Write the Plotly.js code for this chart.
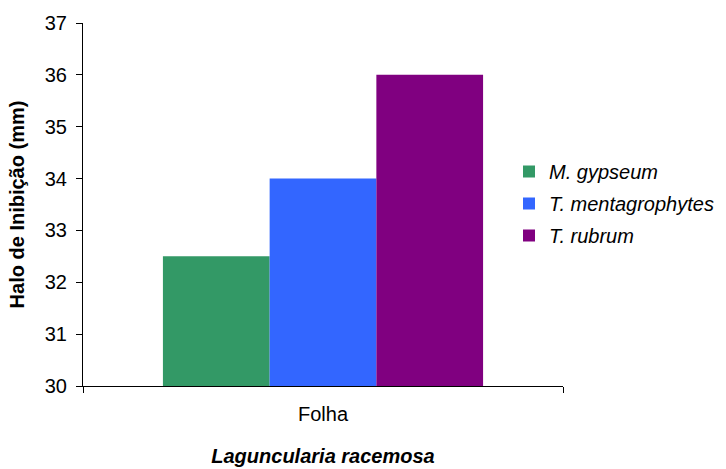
<!DOCTYPE html>
<html>
<head>
<meta charset="utf-8">
<script src="https://cdn.plot.ly/plotly-3.0.1.min.js"></script>
<style>
  html, body { margin: 0; padding: 0; background: #fff; }
  #chart { width: 726px; height: 469px; }
</style>
</head>
<body>
<div id="chart"></div>
<script>
// Inhibition halo (mm) of the leaf extract against three fungi
const categories = ["Folha"];
const seriesNames = ["M. gypseum", "T. mentagrophytes", "T. rubrum"];
const mGypseum = [32.5];
const tMentagrophytes = [34];
const tRubrum = [36];
const yTicks = [30, 31, 32, 33, 34, 35, 36, 37];

const seriesValues = [mGypseum, tMentagrophytes, tRubrum];
const colors = ["#339966", "#3366FF", "#800080"];

const FONT = "Liberation Sans, Arial, sans-serif";

const traces = seriesNames.map((name, i) => ({
  type: "bar",
  name: name,
  legendgroup: "g" + i,
  x: categories,
  y: seriesValues[i],
  marker: { color: colors[i], line: { width: 0 } },
  hoverinfo: "skip"
}));

const layout = {
  width: 726,
  height: 469,
  margin: { l: 83, r: 163, t: 23, b: 83, autoexpand: false },
  paper_bgcolor: "#ffffff",
  plot_bgcolor: "#ffffff",
  font: { family: FONT, size: 20, color: "#000" },
  barmode: "group",
  bargap: 0.333,
  bargroupgap: 0,
  showlegend: true,
  legend: {
    xref: "container",
    yref: "container",
    x: 509 / 726,
    xanchor: "left",
    y: 1 - 203.5 / 469,
    yanchor: "middle",
    font: { family: FONT, size: 20, style: "italic", color: "#000" },
    tracegroupgap: 3,
    itemwidth: 30,
    bgcolor: "rgba(0,0,0,0)"
  },
  xaxis: {
    type: "category",
    showline: true,
    linecolor: "#000",
    linewidth: 1,
    ticks: "outside",
    tickson: "boundaries",
    ticklen: 6,
    tickcolor: "#000",
    showgrid: false,
    zeroline: false,
    ticklabelstandoff: 10,
    tickfont: { family: FONT, size: 20 },
    title: {
      text: "Laguncularia racemosa",
      font: { family: FONT, size: 20, weight: "bold", style: "italic" },
      standoff: 24
    }
  },
  yaxis: {
    range: [30, 37],
    tickvals: yTicks,
    ticktext: yTicks.map(String),
    showline: true,
    linecolor: "#000",
    linewidth: 1,
    ticks: "outside",
    ticklen: 6,
    tickcolor: "#000",
    showgrid: false,
    zeroline: false,
    ticklabelstandoff: 5,
    tickfont: { family: FONT, size: 20 },
    title: {
      text: "Halo de Inibição (mm)",
      font: { family: FONT, size: 20, weight: "bold" },
      standoff: 14
    }
  }
};

Plotly.newPlot("chart", traces, layout, { staticPlot: true, displayModeBar: false });
</script>
</body>
</html>
